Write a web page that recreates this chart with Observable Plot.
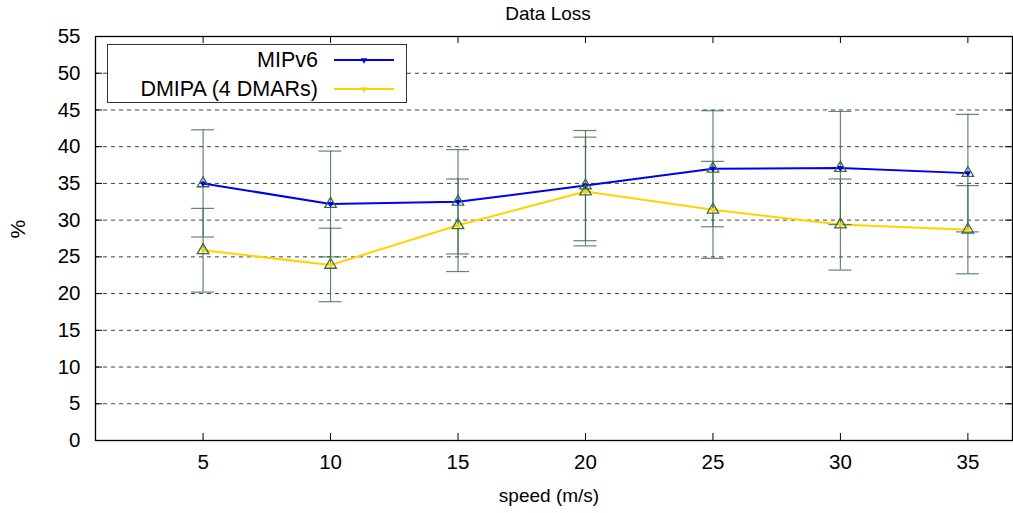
<!DOCTYPE html>
<html>
<head>
<meta charset="utf-8">
<script src="https://cdn.jsdelivr.net/npm/d3@7"></script>
<script src="https://cdn.jsdelivr.net/npm/@observablehq/plot@0.6"></script>
<style>
  html, body { margin: 0; padding: 0; background: #fff; }
  #wrap { position: relative; width: 1013px; height: 513px; font-family: "Liberation Sans", Arial, sans-serif; }
  #legend { position: absolute; left: 107px; top: 44px; width: 300px; height: 59px; background: #fff; border: 1.5px solid #333; box-sizing: border-box; }
  #legend .row { position: absolute; left: 0; width: 100%; height: 26px; }
  #legend .lab { position: absolute; right: 88px; top: 0; font-size: 21.5px; line-height: 26px; color: #000; white-space: nowrap; }
  #legend svg { position: absolute; left: 224px; top: 1px; }
</style>
</head>
<body>
<div id="wrap"></div>
<script>
const speeds = [5, 10, 15, 20, 25, 30, 35];
const mipv6 = [35.0, 32.2, 32.5, 34.7, 37.0, 37.1, 36.4];
const mipv6Err = [7.3, 7.2, 7.1, 7.5, 7.9, 7.7, 8.0];
const dmipa = [25.9, 23.9, 29.3, 33.9, 31.4, 29.4, 28.7];
const dmipaErr = [5.7, 5.0, 6.3, 7.4, 6.6, 6.2, 6.0];
const seriesNames = ["MIPv6", "DMIPA (4 DMARs)"];
const seriesColors = ["#0000ee", "#ffd200"];
const xTicks = [5, 10, 15, 20, 25, 30, 35];
const yTicks = [0, 5, 10, 15, 20, 25, 30, 35, 40, 45, 50, 55];
const gridTicks = [5, 10, 15, 20, 25, 30, 35, 40, 45, 50];
const titleText = "Data Loss";
const xLabel = "speed (m/s)";
const yLabel = "%";

const errColor = "#3a6b48";
const capHalf = 0.45;

const rows = [];
[mipv6, dmipa].forEach((vals, si) => {
  const errs = si === 0 ? mipv6Err : dmipaErr;
  speeds.forEach((x, i) => rows.push({series: seriesNames[si], x, y: vals[i], lo: vals[i] - errs[i], hi: vals[i] + errs[i]}));
});

const W = 1013, H = 513;
const mL = 95, mR = 1, mT = 36, mB = 73;
const innerW = W - mL - mR, innerH = H - mT - mB;

const chart = Plot.plot({
  width: W, height: H,
  marginLeft: mL, marginRight: mR, marginTop: mT, marginBottom: mB,
  style: {fontFamily: "'Liberation Sans', Arial, sans-serif", fontSize: "20.5px", color: "#000", background: "#fff"},
  x: {domain: [0.78, 36.75]},
  y: {domain: [0, 55]},
  color: {domain: seriesNames, range: seriesColors},
  marks: [
    Plot.gridY(gridTicks, {stroke: "#000", strokeOpacity: 0.75, strokeDasharray: "4,4", strokeWidth: 1}),
    Plot.axisY({ticks: yTicks, tickSize: 0, tickPadding: 15, label: null, fontSize: 20.5}),
    Plot.axisX({ticks: xTicks, tickSize: 0, tickPadding: 14, label: null, fontSize: 20.5}),
    Plot.tickX(xTicks, {x: d => d, insetTop: innerH - 7, stroke: "#000", strokeWidth: 1}),
    Plot.tickX(xTicks, {x: d => d, insetBottom: innerH - 7, stroke: "#000", strokeWidth: 1}),
    Plot.tickY(yTicks, {y: d => d, insetRight: innerW - 7, stroke: "#000", strokeWidth: 1}),
    Plot.tickY(yTicks, {y: d => d, insetLeft: innerW - 7, stroke: "#000", strokeWidth: 1}),
    Plot.line(rows, {x: "x", y: "y", z: "series", stroke: "series", strokeWidth: 2}),
    Plot.ruleX(rows, {x: "x", y1: "lo", y2: "hi", stroke: errColor, strokeWidth: 1.2, strokeOpacity: 0.8}),
    Plot.ruleY(rows, {y: "lo", x1: d => d.x - capHalf, x2: d => d.x + capHalf, stroke: errColor, strokeWidth: 1.2, strokeOpacity: 0.8}),
    Plot.ruleY(rows, {y: "hi", x1: d => d.x - capHalf, x2: d => d.x + capHalf, stroke: errColor, strokeWidth: 1.2, strokeOpacity: 0.8}),
    Plot.dot(rows, {x: "x", y: "y", symbol: "triangle2", rotate: 180, r: 3.2, fill: "series", stroke: "none"}),
    Plot.dot(rows, {x: "x", y: "y", symbol: "triangle2", r: 5.5, fill: "none", stroke: errColor, strokeWidth: 1.3}),
    Plot.frame({stroke: "#000", strokeWidth: 1.3}),
    Plot.text([titleText], {frameAnchor: "top", lineAnchor: "middle", dy: -23, dx: -6, text: d => d, fontSize: 19, fill: "#000"}),
    Plot.text([xLabel], {frameAnchor: "bottom", lineAnchor: "middle", dy: 55, dx: -5, text: d => d, fontSize: 19, fill: "#000"}),
    Plot.text([yLabel], {frameAnchor: "left", dx: -77, rotate: -90, text: d => d, fontSize: 21, fill: "#000"})
  ]
});

const wrap = document.getElementById("wrap");
wrap.appendChild(chart);

const legend = document.createElement("div");
legend.id = "legend";
seriesNames.forEach((name, i) => {
  const row = document.createElement("div");
  row.className = "row";
  row.style.top = (i === 0 ? 2 : 31) + "px";
  const lab = document.createElement("span");
  lab.className = "lab";
  lab.textContent = name;
  row.appendChild(lab);
  const svg = d3.create("svg").attr("width", 64).attr("height", 24);
  svg.append("line").attr("x1", 2).attr("x2", 62).attr("y1", 12).attr("y2", 12)
    .attr("stroke", seriesColors[i]).attr("stroke-width", 2);
  svg.append("path").attr("d", d3.symbol(d3.symbolTriangle2, 30)())
    .attr("transform", "translate(32,12) rotate(180)").attr("fill", seriesColors[i]);
  row.appendChild(svg.node());
  legend.appendChild(row);
});
wrap.appendChild(legend);
</script>
</body>
</html>
